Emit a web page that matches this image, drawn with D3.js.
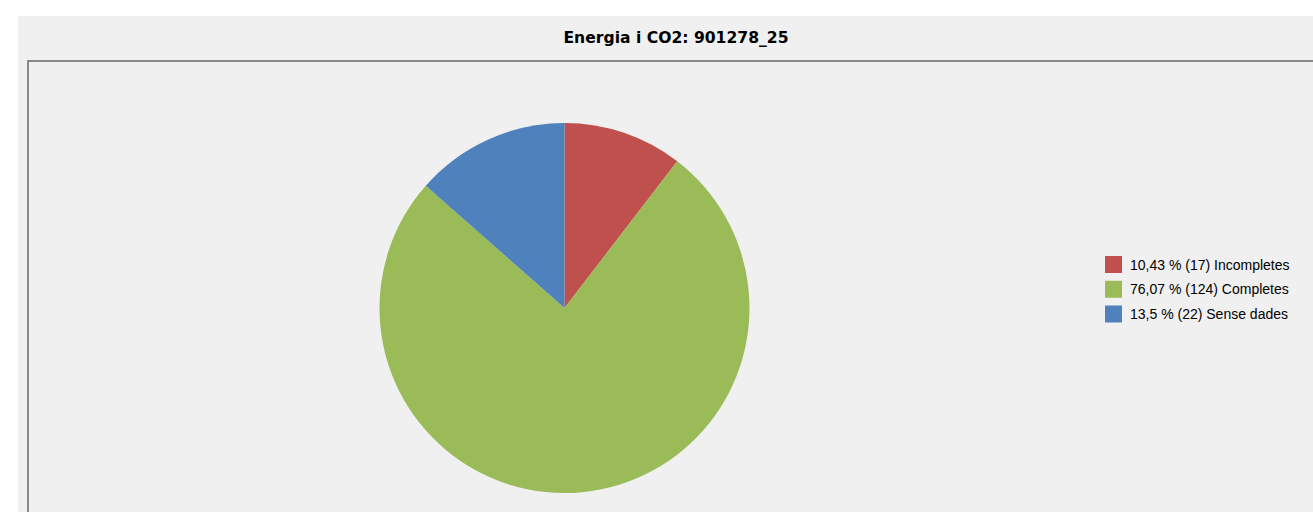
<!DOCTYPE html>
<html>
<head>
<meta charset="utf-8">
<script src="https://cdn.jsdelivr.net/npm/d3@7"></script>
<style>
  html, body { margin: 0; padding: 0; background: #ffffff; overflow: hidden; }
  svg { display: block; }
</style>
</head>
<body>
<svg id="chart" width="1313" height="512"></svg>
<script>
// Chart data
const title = "Energia i CO2: 901278_25";
const categories = ["Incompletes", "Completes", "Sense dades"];
const counts = [17, 124, 22];
const percents = ["10,43", "76,07", "13,5"];
const colors = ["#c0504d", "#9bbb59", "#4f81bd"];

const W = 1313, H = 512;
const svg = d3.select("#chart");

// Panel background
svg.append("rect")
  .attr("x", 18).attr("y", 16)
  .attr("width", W - 18 + 30).attr("height", H)
  .attr("fill", "#f0f0f0");

// Title
svg.append("text")
  .attr("x", 676).attr("y", 43)
  .attr("text-anchor", "middle")
  .attr("font-family", "'DejaVu Sans', Verdana, sans-serif")
  .attr("font-weight", "bold")
  .attr("font-size", 15.6)
  .attr("fill", "#000")
  .text(title);

// Plot area frame
svg.append("rect")
  .attr("x", 28).attr("y", 61)
  .attr("width", W + 40).attr("height", H)
  .attr("fill", "none")
  .attr("stroke", "#8a8a8a")
  .attr("stroke-width", 2);

// Pie
const cx = 564.5, cy = 308, r = 185;
const pie = d3.pie().sort(null).value(d => d.count);
const arc = d3.arc().innerRadius(0).outerRadius(r);
const data = categories.map((c, i) => ({ name: c, count: counts[i], pct: percents[i], color: colors[i] }));

svg.append("g")
  .attr("transform", `translate(${cx},${cy})`)
  .selectAll("path")
  .data(pie(data))
  .join("path")
  .attr("d", arc)
  .attr("fill", d => d.data.color);

// Legend
const legendY = d3.scalePoint().domain(categories).range([264.5, 314]);
const legend = svg.append("g");
const rows = legend.selectAll("g")
  .data(data)
  .join("g")
  .attr("transform", d => `translate(1105,${legendY(d.name)})`);

rows.append("rect")
  .attr("x", 0).attr("y", -8.5)
  .attr("width", 17).attr("height", 17)
  .attr("fill", d => d.color);

rows.append("text")
  .attr("x", 25).attr("y", 0)
  .attr("dy", "0.36em")
  .attr("font-family", "'Liberation Sans', Arial, sans-serif")
  .attr("font-size", 14)
  .attr("fill", "#000")
  .text(d => `${d.pct} % (${d.count}) ${d.name}`);
</script>
</body>
</html>
